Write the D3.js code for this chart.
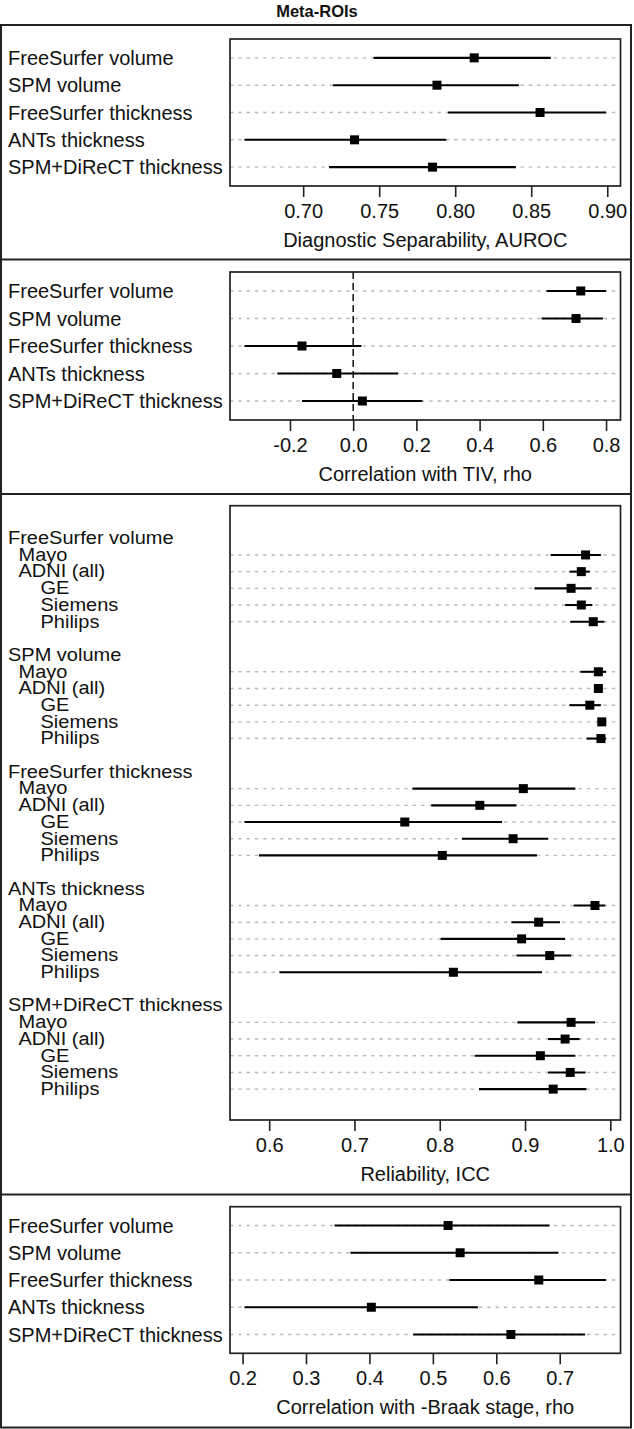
<!DOCTYPE html>
<html><head><meta charset="utf-8">
<script src="https://cdn.jsdelivr.net/npm/d3@7"></script>
<style>
html,body{margin:0;padding:0;background:#fff;}
svg text{font-family:"Liberation Sans",Arial,Helvetica,sans-serif;fill:#111;}
</style></head><body>
<svg id="chart" width="634" height="1429"></svg>
<script>
// ---------------- data ----------------
const chartTitle = "Meta-ROIs";
const methods = ["FreeSurfer volume","SPM volume","FreeSurfer thickness","ANTs thickness","SPM+DiReCT thickness"];

// Panel 1: diagnostic separability (AUROC)
const aurocEst = [0.8125, 0.788, 0.8558, 0.7338, 0.7851];
const aurocLo  = [0.7463, 0.7196, 0.7952, 0.6614, 0.717];
const aurocHi  = [0.8629, 0.8419, 0.8992, 0.7941, 0.8399];
const aurocTicks = [0.70, 0.75, 0.80, 0.85, 0.90];
const aurocTickLabels = ["0.70","0.75","0.80","0.85","0.90"];
const aurocTitle = "Diagnostic Separability, AUROC";

// Panel 2: correlation with TIV
const tivEst = [0.720, 0.705, -0.162, -0.052, 0.029];
const tivLo  = [0.612, 0.596, -0.344, -0.240, -0.162];
const tivHi  = [0.800, 0.790, 0.026, 0.142, 0.219];
const tivTicks = [-0.2, 0.0, 0.2, 0.4, 0.6, 0.8];
const tivTickLabels = ["-0.2","0.0","0.2","0.4","0.6","0.8"];
const tivTitle = "Correlation with TIV, rho";
const tivRef = 0;

// Panel 3: reliability (ICC), per method x site
const sites = ["Mayo","ADNI (all)","GE","Siemens","Philips"];
const siteIndent = [1, 1, 2, 2, 2];
const iccEst = [
  [0.971, 0.966, 0.954, 0.966, 0.980],
  [0.986, 0.986, 0.976, 0.990, 0.989],
  [0.898, 0.847, 0.759, 0.886, 0.803],
  [0.982, 0.916, 0.896, 0.929, 0.816],
  [0.954, 0.947, 0.918, 0.953, 0.933]
];
const iccLo = [
  [0.930, 0.952, 0.911, 0.947, 0.953],
  [0.965, 0.981, 0.952, 0.986, 0.972],
  [0.768, 0.790, 0.571, 0.826, 0.588],
  [0.957, 0.884, 0.801, 0.890, 0.612],
  [0.891, 0.927, 0.841, 0.927, 0.846]
];
const iccHi = [
  [0.989, 0.976, 0.978, 0.979, 0.993],
  [0.995, 0.991, 0.989, 0.993, 0.995],
  [0.959, 0.890, 0.873, 0.927, 0.914],
  [0.994, 0.941, 0.947, 0.954, 0.920],
  [0.982, 0.964, 0.959, 0.971, 0.972]
];
const iccTicks = [0.6, 0.7, 0.8, 0.9, 1.0];
const iccTickLabels = ["0.6","0.7","0.8","0.9","1.0"];
const iccTitle = "Reliability, ICC";

// Panel 4: correlation with -Braak stage
const braakEst = [0.524, 0.543, 0.667, 0.403, 0.623];
const braakLo  = [0.345, 0.370, 0.526, 0.203, 0.469];
const braakHi  = [0.684, 0.698, 0.773, 0.571, 0.740];
const braakTicks = [0.2, 0.3, 0.4, 0.5, 0.6, 0.7];
const braakTickLabels = ["0.2","0.3","0.4","0.5","0.6","0.7"];
const braakTitle = "Correlation with -Braak stage, rho";

// ---------------- layout ----------------
const svg = d3.select("#chart");
const BOX_L = 230, BOX_R = 620.5;
const FONT = 20;
const indentPx = [0, 10.5, 32.5];

function padded(lo, hi) {
  const a = d3.min(lo), b = d3.max(hi), r = b - a;
  return [a - 0.04 * r, b + 0.04 * r];
}

function drawPanel(cfg) {
  const g = svg.append("g");
  const x = d3.scaleLinear().domain(padded(cfg.allLo, cfg.allHi)).range([BOX_L, BOX_R]);
  const y = d3.scaleLinear().domain(cfg.yDomain).range([cfg.top, cfg.bottom]);

  // row labels
  cfg.rows.forEach(r => {
    const t = g.append("text")
      .attr("transform", `translate(${8 + indentPx[r.indent]},${y(r.slot) + cfg.baseOff}) scale(1,${cfg.sy})`)
      .attr("font-size", FONT)
      .text(r.label);
  });

  const dataRows = cfg.rows.filter(r => r.est !== undefined);

  // dotted guide lines
  g.selectAll("line.guide").data(dataRows).enter().append("line")
    .attr("x1", BOX_L).attr("x2", BOX_R)
    .attr("y1", d => y(d.slot)).attr("y2", d => y(d.slot))
    .attr("stroke", "#b9b9b9").attr("stroke-width", 1.4)
    .attr("stroke-dasharray", "3.4,4.9");

  // reference line
  if (cfg.ref !== undefined) {
    g.append("line")
      .attr("x1", x(cfg.ref)).attr("x2", x(cfg.ref))
      .attr("y1", cfg.top).attr("y2", cfg.bottom)
      .attr("stroke", "#111").attr("stroke-width", 1.5)
      .attr("stroke-dasharray", "7,4");
  }

  // CI lines
  g.selectAll("line.ci").data(dataRows).enter().append("line")
    .attr("x1", d => x(d.lo)).attr("x2", d => x(d.hi))
    .attr("y1", d => y(d.slot)).attr("y2", d => y(d.slot))
    .attr("stroke", "#000").attr("stroke-width", 2.1);

  // point estimates
  const s = 9;
  g.selectAll("rect.pt").data(dataRows).enter().append("rect")
    .attr("x", d => x(d.est) - s / 2).attr("y", d => y(d.slot) - s / 2)
    .attr("width", s).attr("height", s).attr("fill", "#000");

  // box
  g.append("rect")
    .attr("x", BOX_L).attr("y", cfg.top)
    .attr("width", BOX_R - BOX_L).attr("height", cfg.bottom - cfg.top)
    .attr("fill", "none").attr("stroke", "#222").attr("stroke-width", 1.7);

  // axis
  const axis = d3.axisBottom(x)
    .tickValues(cfg.ticks)
    .tickFormat((d, i) => cfg.tickLabels[i])
    .tickSize(11).tickPadding(6.8);
  const ag = g.append("g").attr("transform", `translate(0,${cfg.bottom})`).call(axis);
  ag.select(".domain").remove();
  ag.selectAll(".tick line").attr("stroke", "#222").attr("stroke-width", 1.6);
  ag.selectAll(".tick text").attr("font-size", FONT)
    .attr("font-family", '"Liberation Sans",Arial,Helvetica,sans-serif').attr("fill", "#111");

  // axis title
  g.append("text")
    .attr("x", (BOX_L + BOX_R) / 2).attr("y", cfg.bottom + 60.5)
    .attr("text-anchor", "middle").attr("font-size", FONT)
    .text(cfg.title);
}

function simpleRows(est, lo, hi) {
  return methods.map((m, i) => ({label: m, indent: 0, slot: i, est: est[i], lo: lo[i], hi: hi[i]}));
}

// title
svg.append("text")
  .attr("x", 317).attr("y", 16.5)
  .attr("text-anchor", "middle")
  .attr("font-size", 16.5).attr("font-weight", "bold")
  .text(chartTitle);

// outer frame and dividers
svg.append("rect").attr("x", 1).attr("y", 25).attr("width", 630).attr("height", 1402.5)
  .attr("fill", "none").attr("stroke", "#222").attr("stroke-width", 2);
[259.5, 494, 1194.5].forEach(yy => {
  svg.append("line").attr("x1", 1).attr("x2", 631).attr("y1", yy).attr("y2", yy)
    .attr("stroke", "#222").attr("stroke-width", 2);
});

drawPanel({
  rows: simpleRows(aurocEst, aurocLo, aurocHi),
  allLo: aurocLo, allHi: aurocHi,
  top: 39, bottom: 186, yDomain: [-0.69, 4.69],
  ticks: aurocTicks, tickLabels: aurocTickLabels, title: aurocTitle,
  baseOff: 7.2, sy: 1
});

drawPanel({
  rows: simpleRows(tivEst, tivLo, tivHi),
  allLo: tivLo, allHi: tivHi,
  top: 272, bottom: 420, yDomain: [-0.69, 4.69],
  ticks: tivTicks, tickLabels: tivTickLabels, title: tivTitle, ref: tivRef,
  baseOff: 7.2, sy: 1
});

// ICC rows: header + 5 sites + blank per method
const iccRows = [];
methods.forEach((m, gi) => {
  const base = gi * 7;
  iccRows.push({label: m, indent: 0, slot: base});
  sites.forEach((s, si) => {
    iccRows.push({label: s, indent: siteIndent[si], slot: base + 1 + si,
      est: iccEst[gi][si], lo: iccLo[gi][si], hi: iccHi[gi][si]});
  });
});
drawPanel({
  rows: iccRows,
  allLo: iccLo.flat(), allHi: iccHi.flat(),
  top: 505.7, bottom: 1120, yDomain: [-1.95, 34.85],
  ticks: iccTicks, tickLabels: iccTickLabels, title: iccTitle,
  baseOff: 5.8, sy: 0.88
});

drawPanel({
  rows: simpleRows(braakEst, braakLo, braakHi),
  allLo: braakLo, allHi: braakHi,
  top: 1206.7, bottom: 1353.3, yDomain: [-0.69, 4.69],
  ticks: braakTicks, tickLabels: braakTickLabels, title: braakTitle,
  baseOff: 7.2, sy: 1
});
</script>
</body></html>
